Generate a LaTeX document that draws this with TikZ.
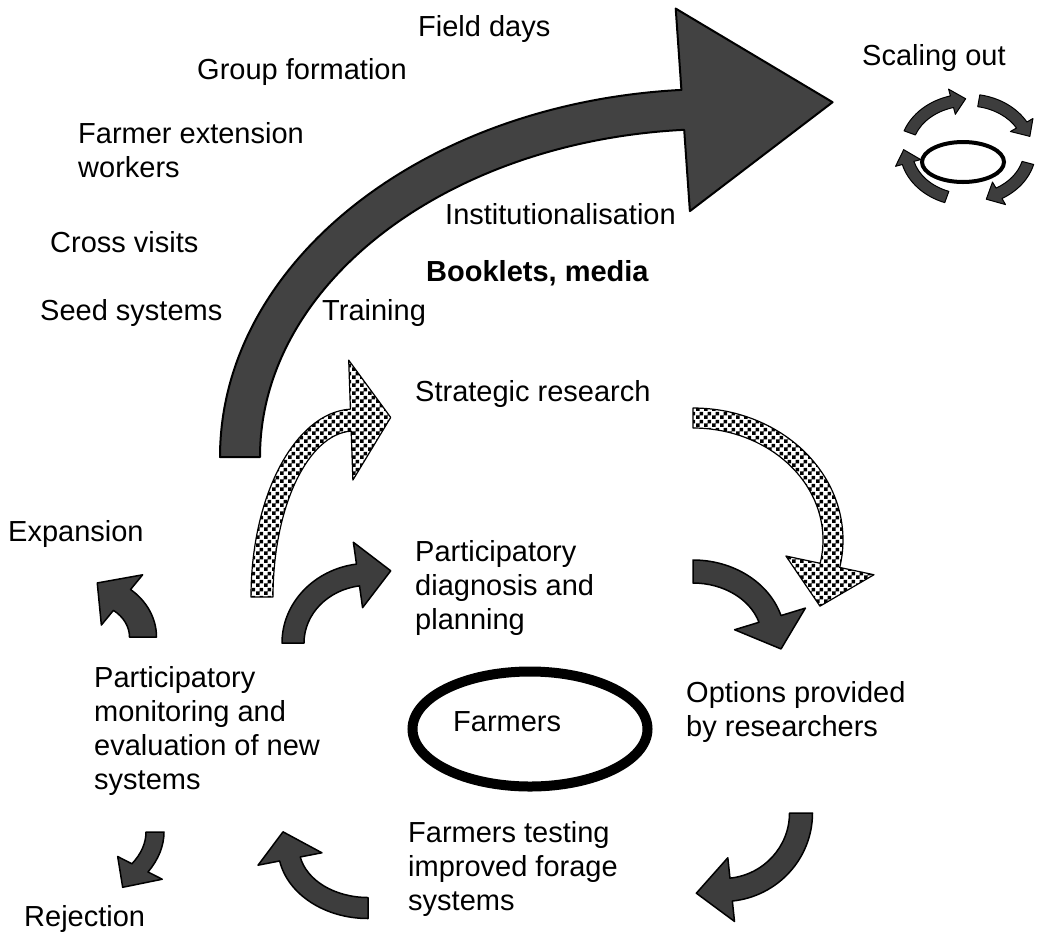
\documentclass[tikz,border=0pt]{standalone}
\usepackage{fontspec}
\setmainfont{Liberation Sans}
\usetikzlibrary{positioning,calc,patterns,shapes.geometric}

\pgfdeclarepatternformonly{checks}{\pgfqpoint{0pt}{0pt}}{\pgfqpoint{8pt}{8pt}}{\pgfqpoint{8pt}{8pt}}{%
  \pgfpathrectangle{\pgfqpoint{0pt}{0pt}}{\pgfqpoint{4pt}{4pt}}%
  \pgfpathrectangle{\pgfqpoint{4pt}{4pt}}{\pgfqpoint{4pt}{4pt}}%
  \pgfusepath{fill}}

% curved block arrow: [style]{centre}{x radius}{y radius}{start}{head angle}{body}{head width}{head length}
\newcommand{\blockarc}[9][]{%
  \pgfmathsetmacro\rxo{#3+#7/2}\pgfmathsetmacro\ryo{#4+#7/2}%
  \pgfmathsetmacro\rxi{#3-#7/2}\pgfmathsetmacro\ryi{#4-#7/2}%
  \pgfmathsetmacro\rxh{#3+#8/2}\pgfmathsetmacro\ryh{#4+#8/2}%
  \pgfmathsetmacro\rxl{#3-#8/2}\pgfmathsetmacro\ryl{#4-#8/2}%
  \pgfmathsetmacro\tang{atan2(#4*cos(#6),-#3*sin(#6))+180*(#6<#5)}%
  \draw[#1] ($#2+(#5:\rxo\space and \ryo)$)
    arc[start angle=#5, end angle=#6, x radius=\rxo, y radius=\ryo]
    -- ($#2+(#6:\rxh\space and \ryh)$)
    -- ($#2+(#6:#3 and #4)+(\tang:#9)$)
    -- ($#2+(#6:\rxl\space and \ryl)$)
    -- ($#2+(#6:\rxi\space and \ryi)$)
    arc[start angle=#6, end angle=#5, x radius=\rxi, y radius=\ryi] -- cycle;}

\begin{document}
\begin{tikzpicture}[x=1pt,y=-1pt,
    stage/.style={inner sep=0pt, anchor=west, align=left, font=\fontsize{29}{34}\selectfont},
    bigarrow/.style={fill=black!74, draw=black, line width=2pt, line join=round},
    darkarrow/.style={fill=black!76, draw=black, line width=1.5pt, line join=round},
    checkarrow/.style={pattern=checks, draw=black, line width=1.2pt, line join=round},
    ring/.style={draw, ellipse, line width=#1}]
  \useasboundingbox (0,0) rectangle (1044,938);

  % scaling up
  \blockarc[bigarrow]{(716,457)}{476}{348}{180}{266}{40}{203}{150}
  \node[stage] (field) at (418,29) {Field days};
  \node[stage] (group) at (197,72) {Group formation};
  \node[stage] (extension) at (78,150) {Farmer extension\\workers};
  \node[stage] (cross) at (50,242) {Cross visits};
  \node[stage] (seed) at (40,313) {Seed systems};
  \node[stage] (inst) at (445,214) {Institutionalisation};
  \node[stage, font=\fontsize{29}{34}\selectfont\bfseries] (booklets) at (426,273) {Booklets, media};
  \node[stage] (training) at (322,313) {Training};

  % scaling out
  \node[stage] (scaling) at (862,58) {Scaling out};
  \node[ring=4pt, minimum width=82pt, minimum height=40pt] (outring) at (963,162) {};
  \foreach \a/\b in {200/255, 280/330, 15/60, 110/165}{
    \blockarc[darkarrow, line width=1pt]{(968,150)}{62}{50}{\a}{\b}{12}{26}{14}
  }

  % research loop
  \node[stage] (strategic) at (415,394) {Strategic research};
  \blockarc[checkarrow]{(354,597)}{92}{177}{180}{268}{22}{120}{40}
  \blockarc[checkarrow]{(693,540)}{140}{122}{270}{372}{20}{90}{42}

  % farmer cycle
  \node[ring=10pt, minimum width=235pt, minimum height=115pt] (ring) at (530,729) {};
  \node[stage] (farmers) at (453,722) {Farmers};
  \node[stage] (diagnosis) at (415,588) {Participatory\\diagnosis and\\planning};
  \node[stage] (options) at (686,712) {Options provided\\by researchers};
  \node[stage] (testing) at (408,869) {Farmers testing\\improved forage\\systems};
  \node[stage] (monitoring) at (94,731) {Participatory\\monitoring and\\evaluation of new\\systems};
  \node[stage] (expansion) at (8,534) {Expansion};
  \node[stage] (rejection) at (24,919) {Rejection};

  \blockarc[darkarrow]{(368.5,643)}{75.5}{68.7}{180}{262}{22}{66}{33}
  \blockarc[darkarrow]{(693,638.5)}{80.5}{67}{270}{343}{23}{74}{32}
  \blockarc[darkarrow]{(723,813)}{78}{77}{0}{84}{23}{64}{35}
  \blockarc[darkarrow]{(368,847.4)}{79.5}{60.6}{90}{169}{21}{65}{28}
  \blockarc[darkarrow]{(85.5,637)}{57.5}{48}{0}{-50.6}{27}{65}{30}
  \blockarc[darkarrow]{(17,832)}{138}{79}{0}{27}{18}{50}{26}
\end{tikzpicture}
\end{document}
